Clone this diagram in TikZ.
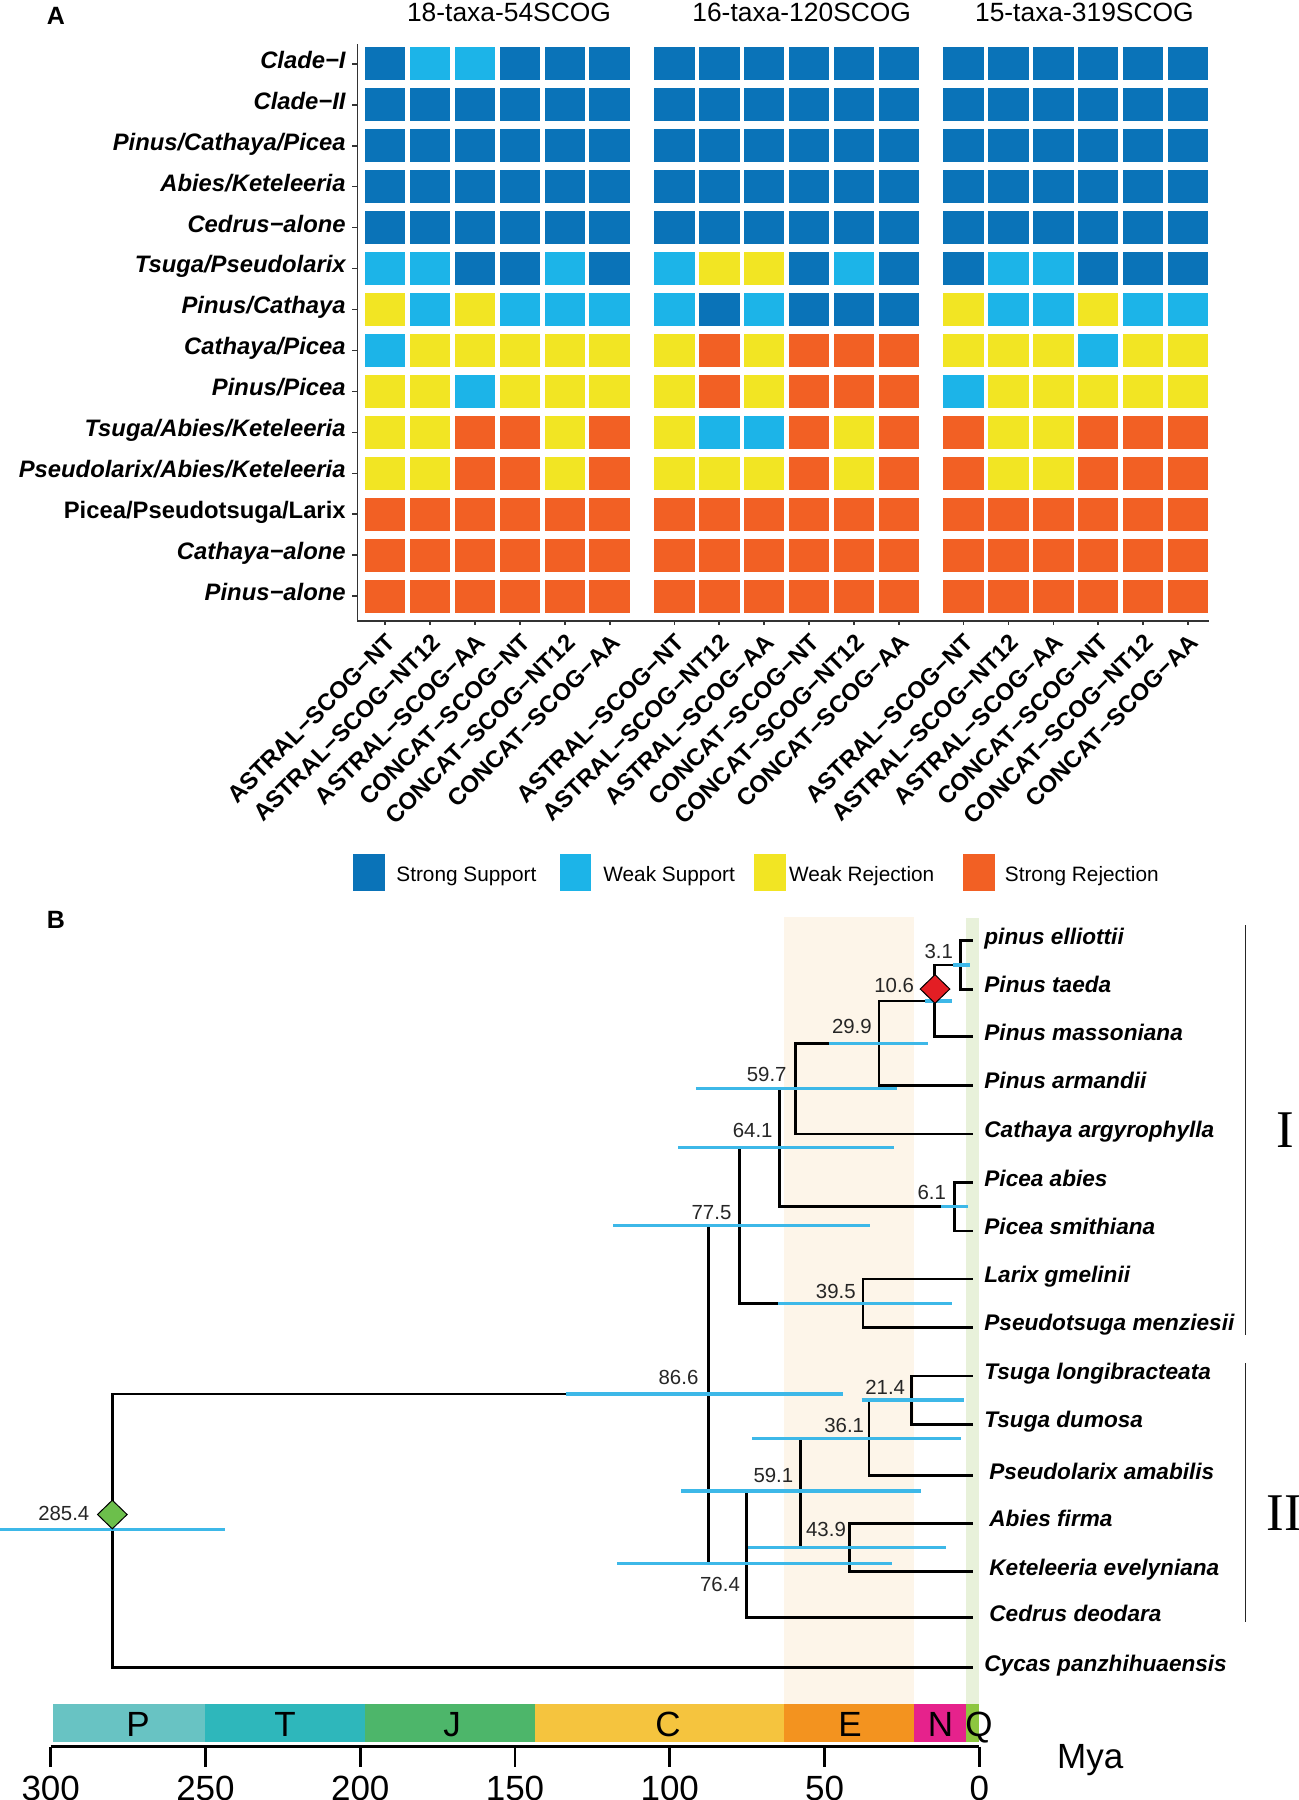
\documentclass[tikz,border=0pt]{standalone}
\usepackage{fontspec}
\setmainfont{Liberation Sans}
\newfontfamily\cladefont{Liberation Serif}
\usetikzlibrary{shapes.geometric,positioning}

\definecolor{hmS}{HTML}{0A73B8}
\definecolor{hmW}{HTML}{1CB4E8}
\definecolor{hmY}{HTML}{F2E523}
\definecolor{hmR}{HTML}{F26024}
\definecolor{hpdblue}{HTML}{3DB8E8}
\definecolor{eoband}{HTML}{FDF5E9}
\definecolor{qband}{HTML}{E8F1DA}
\definecolor{eraP}{HTML}{68C3C3}
\definecolor{eraT}{HTML}{2EB7BB}
\definecolor{eraJ}{HTML}{4DB66A}
\definecolor{eraC}{HTML}{F5C43E}
\definecolor{eraE}{HTML}{F3931F}
\definecolor{eraN}{HTML}{E6228C}
\definecolor{eraQ}{HTML}{8DC63F}
\definecolor{calred}{HTML}{E31E24}
\definecolor{calgreen}{HTML}{6CBF4B}

\tikzset{
  cell/.style={rectangle, inner sep=0pt, minimum width=20.25pt, minimum height=16.35pt},
  hmaxis/.style={draw=black!80, line width=0.8pt},
  rowlab/.style={anchor=base east, inner sep=0pt, font=\fontsize{11.9pt}{14pt}\selectfont\bfseries\itshape},
  collab/.style={anchor=north east, rotate=45, inner sep=0pt, font=\fontsize{11.9pt}{14pt}\selectfont\bfseries},
  grouptitle/.style={inner sep=0pt, font=\fontsize{13.2pt}{16pt}\selectfont},
  panellab/.style={inner sep=0pt, font=\fontsize{12.5pt}{15pt}\selectfont\bfseries},
  legbox/.style={rectangle, inner sep=0pt, minimum width=15.75pt, minimum height=18.7pt, anchor=north west},
  leglab/.style={anchor=base west, inner sep=0pt, font=\fontsize{10.4pt}{12pt}\selectfont},
  branch/.style={line width=1.3pt, black},
  hpd/.style={line width=1.6pt, hpdblue},
  age/.style={inner sep=0pt, font=\fontsize{10.2pt}{12pt}\selectfont, text=black!85},
  tiplab/.style={anchor=base west, inner sep=0pt, font=\fontsize{11.3pt}{13pt}\selectfont\bfseries\itshape},
  calib/.style={diamond, draw=black, line width=0.5pt, inner sep=0pt, minimum width=15pt, minimum height=14.5pt},
  cladebar/.style={line width=0.9pt, black!85},
  cladelab/.style={inner sep=0pt, font=\cladefont\fontsize{26.5pt}{30pt}\selectfont},
  timeaxis/.style={line width=1.3pt, black},
  eralab/.style={anchor=base, inner sep=0pt, font=\fontsize{17.5pt}{20pt}\selectfont},
  ticklab/.style={anchor=base, inner sep=0pt, font=\fontsize{17.5pt}{20pt}\selectfont}
}

\begin{document}
\begin{tikzpicture}[x=0.5pt,y=-0.5pt]
  \useasboundingbox (0,0) rectangle (1299,1800);

  % A: support heatmap
  \node[panellab] (pA) at (56,16.2) {A};
  \node[grouptitle] (g1) at (509,12.5) {18-taxa-54SCOG};
  \node[grouptitle] (g2) at (801.7,12.5) {16-taxa-120SCOG};
  \node[grouptitle] (g3) at (1084.4,12.5) {15-taxa-319SCOG};

  \foreach \codes [count=\r from 0] in {
    {S,W,W,S,S,S,S,S,S,S,S,S,S,S,S,S,S,S},
    {S,S,S,S,S,S,S,S,S,S,S,S,S,S,S,S,S,S},
    {S,S,S,S,S,S,S,S,S,S,S,S,S,S,S,S,S,S},
    {S,S,S,S,S,S,S,S,S,S,S,S,S,S,S,S,S,S},
    {S,S,S,S,S,S,S,S,S,S,S,S,S,S,S,S,S,S},
    {W,W,S,S,W,S,W,Y,Y,S,W,S,S,W,W,S,S,S},
    {Y,W,Y,W,W,W,W,S,W,S,S,S,Y,W,W,Y,W,W},
    {W,Y,Y,Y,Y,Y,Y,R,Y,R,R,R,Y,Y,Y,W,Y,Y},
    {Y,Y,W,Y,Y,Y,Y,R,Y,R,R,R,W,Y,Y,Y,Y,Y},
    {Y,Y,R,R,Y,R,Y,W,W,R,Y,R,R,Y,Y,R,R,R},
    {Y,Y,R,R,Y,R,Y,Y,Y,R,Y,R,R,Y,Y,R,R,R},
    {R,R,R,R,R,R,R,R,R,R,R,R,R,R,R,R,R,R},
    {R,R,R,R,R,R,R,R,R,R,R,R,R,R,R,R,R,R},
    {R,R,R,R,R,R,R,R,R,R,R,R,R,R,R,R,R,R}}{
    \pgfmathsetmacro\cy{63.8+40.95*\r}
    \foreach \c [count=\k from 0] in \codes {
      \pgfmathsetmacro\cx{385.2+44.9*mod(\k,6)+289.15*int(\k/6)}
      \node[cell, fill=hm\c] (cell-\r-\k) at (\cx,\cy) {};
    }
  }

  \foreach \lab [count=\r from 0] in {Clade−I, Clade−II, Pinus/Cathaya/Picea,
      Abies/Keteleeria, Cedrus−alone, Tsuga/Pseudolarix, Pinus/Cathaya,
      Cathaya/Picea, Pinus/Picea, Tsuga/Abies/Keteleeria,
      Pseudolarix/Abies/Keteleeria, {\upshape Picea/Pseudotsuga/Larix},
      Cathaya−alone, Pinus−alone}{
    \pgfmathsetmacro\cy{63.8+40.95*\r}
    \node[rowlab] (lab-\r) at (346,\cy+4.4) {\lab};
    \draw[hmaxis] (352,\cy) -- (357.5,\cy);
  }

  \foreach \g in {0,1,2}{
    \foreach \lab [count=\j from 0] in {ASTRAL−SCOG−NT,ASTRAL−SCOG−NT12,ASTRAL−SCOG−AA,CONCAT−SCOG−NT,CONCAT−SCOG−NT12,CONCAT−SCOG−AA}{
      \pgfmathsetmacro\cx{385.2+44.9*\j+289.15*\g}
      \draw[hmaxis] (\cx,620.7) -- (\cx,625);
      \node[collab] (col-\g-\j) at (\cx,632) {\lab};
    }
  }
  \draw[hmaxis] (357.5,44) -- (357.5,620.7) -- (1208.5,620.7);

  \foreach \x/\tx/\col/\t [count=\i] in {352.8/396/hmS/Strong Support, 559.5/603/hmW/Weak Support,
      753.6/788.6/hmY/Weak Rejection, 962.6/1004.5/hmR/Strong Rejection}{
    \node[legbox, fill=\col] (key\i) at (\x,853.3) {};
    \node[leglab] (keylab\i) at (\tx,881.7) {\t};
  }

  % B: dated tree
  \node[panellab] (pB) at (56,920) {B};
  \fill[eoband] (784,917) rectangle (913.5,1704);
  \fill[qband] (966,918) rectangle (979.3,1704);

  \foreach \n/\x/\y in {31/960.2/965, 106/934.4/1001, 299/879.1/1043.3, 597/795.3/1088.7,
      641/779.2/1147.7, 61/954.4/1206.7, 775/739.5/1225.7, 395/863/1303.3,
      866/708.4/1394, 214/911.3/1400, 361/869/1438.3, 591/800.3/1491,
      439/849.2/1547.7, 764/746.5/1563.3, root/112.7/1530}
    \coordinate (n\n) at (\x,\y);

  \foreach \n/\y/\dx/\name in {1/940.7/5.5/pinus elliottii, 2/989.3/5.5/Pinus taeda,
      3/1036.7/5.5/Pinus massoniana, 4/1085.3/5.5/Pinus armandii,
      5/1134/5.5/Cathaya argyrophylla, 6/1182.7/5.5/Picea abies,
      7/1231/5.5/Picea smithiana, 8/1279/5.5/Larix gmelinii,
      9/1327.3/5.5/Pseudotsuga menziesii, 10/1376/5.5/Tsuga longibracteata,
      11/1424.3/5.5/Tsuga dumosa, 12/1475.7/8/Pseudolarix amabilis,
      13/1523.3/8/Abies firma, 14/1571.7/8/Keteleeria evelyniana,
      15/1617.7/8/Cedrus deodara, 16/1667.7/5.5/Cycas panzhihuaensis}{
    \coordinate (e\n) at (973,\y);
    \node[tiplab] (t\n) at ([xshift=\dx pt,yshift=-1.7pt]e\n) {\name};
  }

  \foreach \p/\c in {n31/e1, n31/e2, n106/n31, n106/e3, n299/n106, n299/e4,
      n597/n299, n597/e5, n61/e6, n61/e7, n641/n597, n641/n61,
      n395/e8, n395/e9, n775/n641, n775/n395, n214/e10, n214/e11,
      n361/n214, n361/e12, n439/e13, n439/e14, n591/n361, n591/n439,
      n764/n591, n764/e15, n866/n775, n866/n764, nroot/n866, nroot/e16}
    \draw[branch] (\p) |- (\c);

  \foreach \l/\r/\y in {953.3/970/965, 924.6/952.2/1001, 828.7/927.7/1043.3,
      695.9/896.5/1088.7, 678/894.2/1147.7, 941/967.8/1206.7,
      613.4/869.7/1225.7, 778.3/952.2/1303.3, 565.9/842.6/1394,
      861.6/963.5/1400, 752.3/961/1438.3, 681/921.3/1491,
      748/946/1547.7, 617.2/892.3/1563.3, 0/225/1529.7}
    \draw[hpd] (\l,\y) -- (\r,\y);

  \node[calib, fill=calred] (cal1) at (935,989) {};
  \node[calib, fill=calgreen] (cal2) at (112.3,1514.5) {};

  \foreach \x/\y/\t [count=\i] in {938.8/951.7/3.1, 894.2/985/10.6, 851.9/1026/29.9,
      766.7/1074/59.7, 752.7/1130/64.1, 931.7/1192.5/6.1, 711.5/1212.5/77.5,
      835.8/1291/39.5, 678.5/1377.5/86.6, 885.2/1387.5/21.4, 844.2/1425.3/36.1,
      773.4/1475/59.1, 826/1529.3/43.9, 720/1584/76.4, 63.8/1513.3/285.4}
    \node[age] (age\i) at (\x,\y) {\t};

  \draw[cladebar] (1245.5,925) -- (1245.5,1335);
  \node[cladelab] (cl1) at (1285.5,1130) {I};
  \draw[cladebar] (1245.5,1363.3) -- (1245.5,1621.7);
  \node[cladelab] (cl2) at (1284,1513) {II};

  % geological time scale
  \foreach \l/\r/\col/\t/\tx in {53.3/205/eraP/P/138, 205/365/eraT/T/285,
      365/534.5/eraJ/J/452, 534.5/784/eraC/C/668, 784/914/eraE/E/850,
      914/966/eraN/N/940.5, 966/979.3/eraQ/Q/979}{
    \fill[\col] (\l,1704) rectangle (\r,1741.7);
    \node[eralab] (era\t) at (\tx,1736) {\t};
  }
  \draw[timeaxis] (50.7,1746.7) -- (979.3,1746.7);
  \foreach \t in {0,50,...,300}{
    \pgfmathsetmacro\tx{979.3-3.0953*\t}
    \draw[timeaxis] (\tx,1746.7) -- (\tx,1767);
    \node[ticklab] (tk\t) at (\tx,1800) {\t};
  }
  \node[anchor=base west, inner sep=0pt, font=\fontsize{17.5pt}{20pt}\selectfont] (mya) at (1056.7,1768.3) {Mya};
\end{tikzpicture}
\end{document}
